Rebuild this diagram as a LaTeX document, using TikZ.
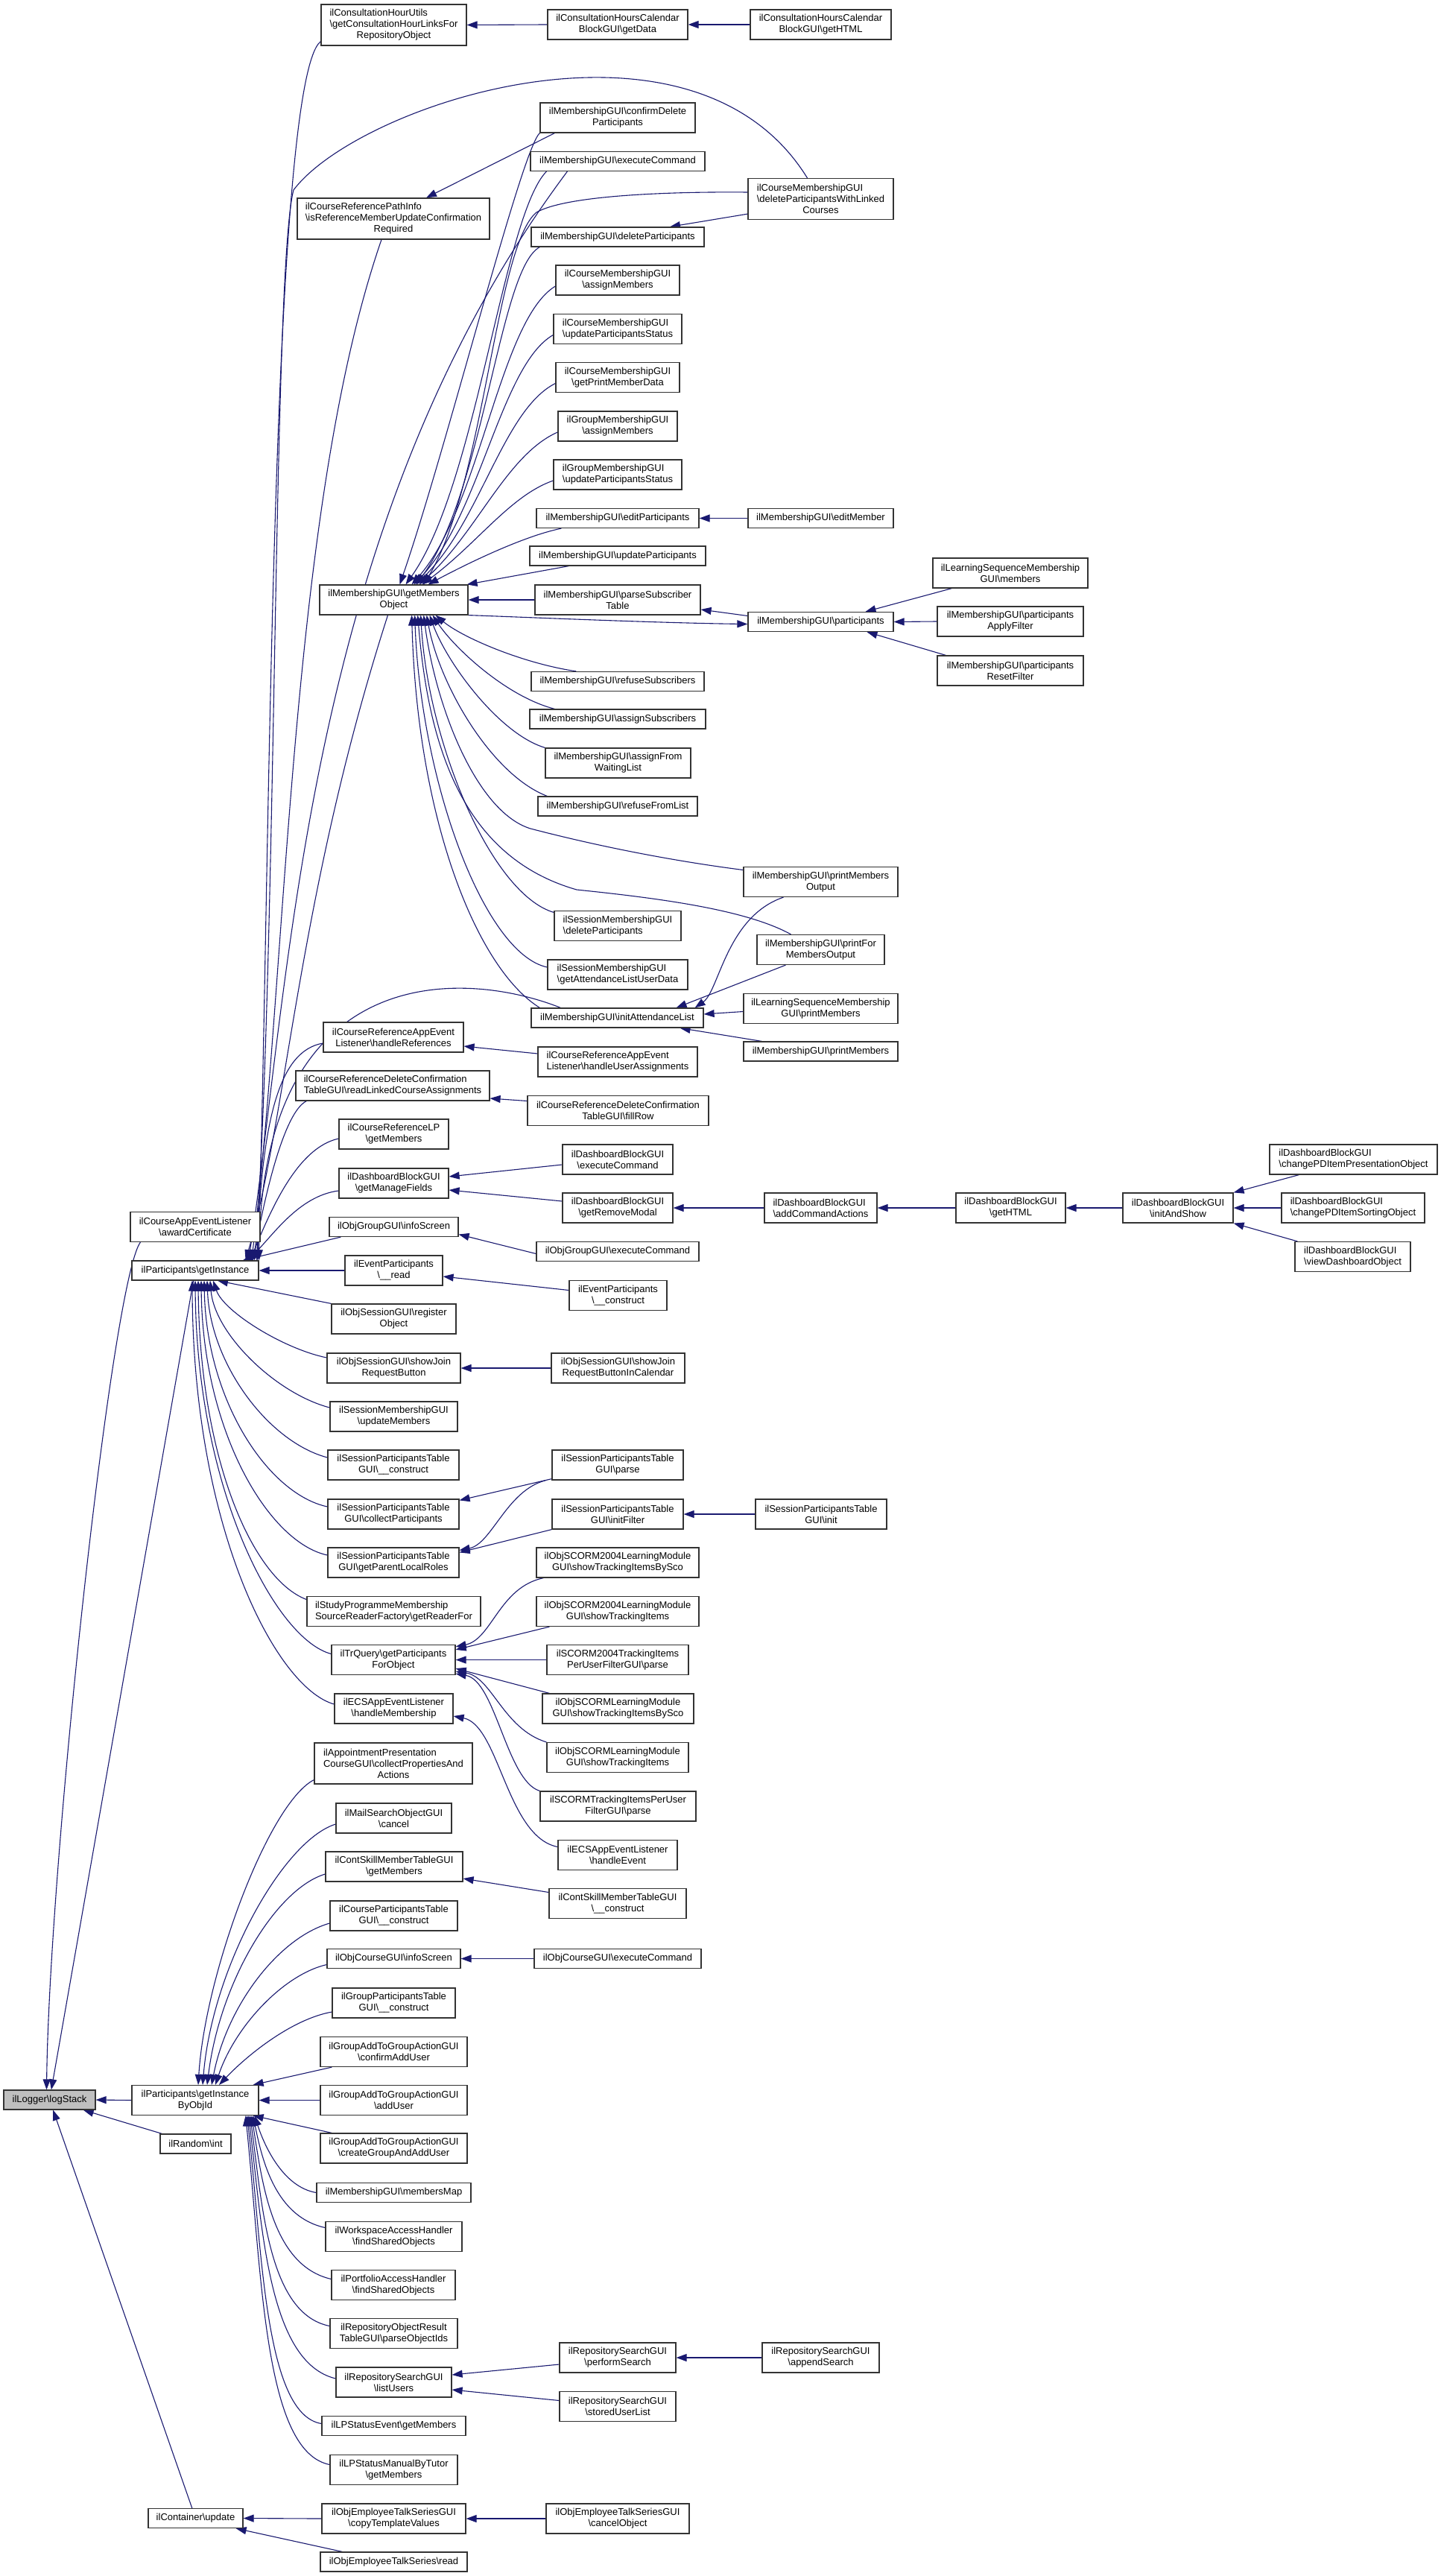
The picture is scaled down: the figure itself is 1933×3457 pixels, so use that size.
\documentclass[tikz,border=0pt]{standalone}
\usepackage{fontspec}
\setmainfont{Liberation Sans}
\usetikzlibrary{arrows.meta, backgrounds}
\definecolor{edgeblue}{HTML}{191970}
\definecolor{rootgray}{HTML}{BFBFBF}
\newcommand{\bsl}{\textbackslash}
\newlength{\padw}
\newcommand{\padto}[2]{\settowidth{\padw}{#2}\makebox[\padw][l]{#1}}
\tikzset{
  fn/.style={draw=black!80, line width=1.2pt, fill=white, align=center, inner xsep=3pt, inner ysep=2pt, minimum height=26pt, font=\fontsize{13}{15}\selectfont},
  fn2/.style={fn, minimum height=40pt},
  fn3/.style={fn, minimum height=55pt},
  call/.style={draw=edgeblue, line width=1.1pt, {Triangle[length=14pt,width=10pt]}-},
}
\begin{document}
\begin{tikzpicture}[x=1pt, y=1pt]
\useasboundingbox (0,0) rectangle (1933,-3457);
% root and second column
\node[fn, fill=rootgray, minimum width=123pt] (logstack) at (66.5,-2818) {ilLogger\bsl logStack};
\node[fn2, minimum width=174pt] (award) at (262,-1646.5) {ilCourseAppEventListener\\\bsl awardCertificate};
\node[fn, minimum width=170pt] (getinst) at (262,-1705) {ilParticipants\bsl getInstance};
\node[fn2, minimum width=170pt] (byobjid) at (262,-2818.5) {ilParticipants\bsl getInstance\\ByObjId};
\node[fn, minimum width=95pt] (rand) at (262.5,-2877) {ilRandom\bsl int};
\node[fn, minimum width=127pt] (contupd) at (262.5,-3379.5) {ilContainer\bsl update};
% third column
\node[fn3, minimum width=195pt] (cchutils) at (528.5,-33.5) {\padto{ilConsultationHourUtils}{\bsl getConsultationHourLinksFor}\\\bsl getConsultationHourLinksFor\\RepositoryObject};
\node[fn3, minimum width=258pt] (pathinfo) at (528,-293.5) {\padto{ilCourseReferencePathInfo}{\bsl isReferenceMemberUpdateConfirmation}\\\bsl isReferenceMemberUpdateConfirmation\\Required};
\node[fn2, minimum width=199pt] (getmemobj) at (528.5,-805) {ilMembershipGUI\bsl getMembers\\Object};
\node[fn2, minimum width=188pt] (handleref) at (528,-1392) {ilCourseReferenceAppEvent\\Listener\bsl handleReferences};
\node[fn2, align=left, minimum width=260pt] (readlinked) at (527,-1457) {ilCourseReferenceDeleteConfirmation\\TableGUI\bsl readLinkedCourseAssignments};
\node[fn2, minimum width=147pt] (reflp) at (528.5,-1522) {ilCourseReferenceLP\\\bsl getMembers};
\node[fn2, minimum width=147pt] (managefields) at (528.5,-1588) {ilDashboardBlockGUI\\\bsl getManageFields};
\node[fn, minimum width=173pt] (grpinfo) at (528.5,-1646.5) {ilObjGroupGUI\bsl infoScreen};
\node[fn2, minimum width=131pt] (evread) at (528.5,-1705) {ilEventParticipants\\\bsl\_\_read};
\node[fn2, minimum width=167pt] (regobj) at (528.5,-1770) {ilObjSessionGUI\bsl register\\Object};
\node[fn2, minimum width=179pt] (showjoin) at (528.5,-1836) {ilObjSessionGUI\bsl showJoin\\RequestButton};
\node[fn2, minimum width=171pt] (sessupd) at (528.5,-1901) {ilSessionMembershipGUI\\\bsl updateMembers};
\node[fn2, minimum width=176pt] (spconstr) at (528,-1966) {ilSessionParticipantsTable\\GUI\bsl\_\_construct};
\node[fn2, minimum width=176pt] (spcollect) at (528,-2032) {ilSessionParticipantsTable\\GUI\bsl collectParticipants};
\node[fn2, minimum width=176pt] (sproles) at (528,-2097) {ilSessionParticipantsTable\\GUI\bsl getParentLocalRoles};
\node[fn2, align=left, minimum width=233pt] (studyprog) at (528.5,-2162.5) {ilStudyProgrammeMembership\\SourceReaderFactory\bsl getReaderFor};
\node[fn2, minimum width=166pt] (trquery) at (528,-2227.5) {ilTrQuery\bsl getParticipants\\ForObject};
\node[fn2, minimum width=159pt] (ecsmember) at (528.5,-2293) {ilECSAppEventListener\\\bsl handleMembership};
\node[fn3, minimum width=212pt] (appoint) at (528,-2366.5) {\padto{ilAppointmentPresentation}{CourseGUI\bsl collectPropertiesAnd}\\CourseGUI\bsl collectPropertiesAnd\\Actions};
\node[fn2, minimum width=155pt] (mailcancel) at (528.5,-2440) {ilMailSearchObjectGUI\\\bsl cancel};
\node[fn2, minimum width=184pt] (skillmem) at (529,-2505) {ilContSkillMemberTableGUI\\\bsl getMembers};
\node[fn2, minimum width=171pt] (crspart) at (528.5,-2571) {ilCourseParticipantsTable\\GUI\bsl\_\_construct};
\node[fn, minimum width=179pt] (crsinfo) at (528.5,-2628.5) {ilObjCourseGUI\bsl infoScreen};
\node[fn2, minimum width=165pt] (grppart) at (528.5,-2688) {ilGroupParticipantsTable\\GUI\bsl\_\_construct};
\node[fn2, minimum width=197pt] (confadd) at (528.5,-2753.5) {ilGroupAddToGroupActionGUI\\\bsl confirmAddUser};
\node[fn2, minimum width=197pt] (adduser) at (528.5,-2818.5) {ilGroupAddToGroupActionGUI\\\bsl addUser};
\node[fn2, minimum width=197pt] (creategrp) at (528.5,-2883) {ilGroupAddToGroupActionGUI\\\bsl createGroupAndAddUser};
\node[fn, minimum width=207pt] (membersmap) at (528.5,-2942.5) {ilMembershipGUI\bsl membersMap};
\node[fn2, minimum width=183pt] (wspshared) at (528.5,-3001.5) {ilWorkspaceAccessHandler\\\bsl findSharedObjects};
\node[fn2, minimum width=166pt] (prtfshared) at (528,-3066.5) {ilPortfolioAccessHandler\\\bsl findSharedObjects};
\node[fn2, minimum width=171pt] (reporesult) at (528.5,-3131.5) {ilRepositoryObjectResult\\TableGUI\bsl parseObjectIds};
\node[fn2, minimum width=155pt] (listusers) at (528.5,-3197) {ilRepositorySearchGUI\\\bsl listUsers};
\node[fn, minimum width=193pt] (lpevent) at (528.5,-3255.5) {ilLPStatusEvent\bsl getMembers};
\node[fn2, minimum width=171pt] (lpmanual) at (528.5,-3314.5) {ilLPStatusManualByTutor\\\bsl getMembers};
\node[fn2, minimum width=193pt] (copytpl) at (528.5,-3380) {ilObjEmployeeTalkSeriesGUI\\\bsl copyTemplateValues};
\node[fn, minimum width=197pt] (talkread) at (528.5,-3438) {ilObjEmployeeTalkSeries\bsl read};
% fourth column
\node[fn2, minimum width=188pt] (cchdata) at (829,-33) {ilConsultationHoursCalendar\\BlockGUI\bsl getData};
\node[fn2, minimum width=208pt] (confdel) at (829,-158) {ilMembershipGUI\bsl confirmDelete\\Participants};
\node[fn, minimum width=234pt] (mexec) at (829,-216.5) {ilMembershipGUI\bsl executeCommand};
\node[fn, minimum width=232pt] (mdelpart) at (829,-318) {ilMembershipGUI\bsl deleteParticipants};
\node[fn2, minimum width=166pt] (crsassign) at (829,-376) {ilCourseMembershipGUI\\\bsl assignMembers};
\node[fn2, align=left, minimum width=172pt] (crsstatus) at (829,-441.5) {ilCourseMembershipGUI\\\bsl updateParticipantsStatus};
\node[fn2, minimum width=166pt] (crsprint) at (829,-506.5) {ilCourseMembershipGUI\\\bsl getPrintMemberData};
\node[fn2, minimum width=160pt] (grpassign) at (829,-572) {ilGroupMembershipGUI\\\bsl assignMembers};
\node[fn2, align=left, minimum width=172pt] (grpstatus) at (829,-637) {ilGroupMembershipGUI\\\bsl updateParticipantsStatus};
\node[fn, minimum width=218pt] (editpart) at (829,-695.5) {ilMembershipGUI\bsl editParticipants};
\node[fn, minimum width=236pt] (updpart) at (829,-746) {ilMembershipGUI\bsl updateParticipants};
\node[fn2, minimum width=222pt] (parsesub) at (829,-805) {ilMembershipGUI\bsl parseSubscriber\\Table};
\node[fn, minimum width=232pt] (refusesub) at (829,-914.5) {ilMembershipGUI\bsl refuseSubscribers};
\node[fn, minimum width=236pt] (assignsub) at (829,-965) {ilMembershipGUI\bsl assignSubscribers};
\node[fn2, minimum width=195pt] (fromwait) at (829.5,-1024) {ilMembershipGUI\bsl assignFrom\\WaitingList};
\node[fn, minimum width=214pt] (refuselist) at (829,-1082) {ilMembershipGUI\bsl refuseFromList};
\node[fn2, align=left, minimum width=170pt] (sessdel) at (829,-1242.5) {ilSessionMembershipGUI\\\bsl deleteParticipants};
\node[fn2, align=left, minimum width=188pt] (attdata) at (829,-1308) {ilSessionMembershipGUI\\\bsl getAttendanceListUserData};
\node[fn, minimum width=231pt] (initatt) at (828.5,-1366) {ilMembershipGUI\bsl initAttendanceList};
\node[fn2, align=left, minimum width=214pt] (handleuser) at (829,-1425) {ilCourseReferenceAppEvent\\Listener\bsl handleUserAssignments};
\node[fn2, minimum width=243pt] (fillrow) at (829.5,-1490.5) {ilCourseReferenceDeleteConfirmation\\TableGUI\bsl fillRow};
\node[fn2, minimum width=148pt] (dbexec) at (829,-1556) {ilDashboardBlockGUI\\\bsl executeCommand};
\node[fn2, minimum width=148pt] (removemodal) at (829,-1621) {ilDashboardBlockGUI\\\bsl getRemoveModal};
\node[fn, minimum width=218pt] (grpexec) at (829,-1679.5) {ilObjGroupGUI\bsl executeCommand};
\node[fn2, minimum width=131pt] (evconstr) at (829.5,-1738.5) {ilEventParticipants\\\bsl\_\_construct};
\node[fn2, minimum width=179pt] (showjoincal) at (829.5,-1836) {ilObjSessionGUI\bsl showJoin\\RequestButtonInCalendar};
\node[fn2, minimum width=176pt] (spparse) at (829,-1966) {ilSessionParticipantsTable\\GUI\bsl parse};
\node[fn2, minimum width=176pt] (spfilter) at (829,-2032) {ilSessionParticipantsTable\\GUI\bsl initFilter};
\node[fn2, minimum width=218pt] (scbysco) at (829,-2097) {ilObjSCORM2004LearningModule\\GUI\bsl showTrackingItemsBySco};
\node[fn2, minimum width=218pt] (scitems) at (829,-2162.5) {ilObjSCORM2004LearningModule\\GUI\bsl showTrackingItems};
\node[fn2, minimum width=190pt] (scparse) at (829,-2227.5) {ilSCORM2004TrackingItems\\PerUserFilterGUI\bsl parse};
\node[fn2, minimum width=203pt] (slbysco) at (829.5,-2293) {ilObjSCORMLearningModule\\GUI\bsl showTrackingItemsBySco};
\node[fn2, minimum width=190pt] (slitems) at (829,-2358.5) {ilObjSCORMLearningModule\\GUI\bsl showTrackingItems};
\node[fn2, minimum width=209pt] (slparse) at (829.5,-2424) {ilSCORMTrackingItemsPerUser\\FilterGUI\bsl parse};
\node[fn2, minimum width=160pt] (ecsevent) at (829,-2489.5) {ilECSAppEventListener\\\bsl handleEvent};
\node[fn2, minimum width=184pt] (skillconstr) at (829,-2554.5) {ilContSkillMemberTableGUI\\\bsl\_\_construct};
\node[fn, minimum width=224pt] (crsexec) at (829,-2628.5) {ilObjCourseGUI\bsl executeCommand};
\node[fn2, minimum width=156pt] (perfsearch) at (829,-3164) {ilRepositorySearchGUI\\\bsl performSearch};
\node[fn2, minimum width=156pt] (storedlist) at (829,-3229.5) {ilRepositorySearchGUI\\\bsl storedUserList};
\node[fn2, minimum width=192pt] (cancelobj) at (829,-3380) {ilObjEmployeeTalkSeriesGUI\\\bsl cancelObject};
% fifth column
\node[fn2, minimum width=189pt] (cchhtml) at (1101.5,-33) {ilConsultationHoursCalendar\\BlockGUI\bsl getHTML};
\node[fn3, minimum width=195pt] (dellinked) at (1101.5,-267) {\padto{ilCourseMembershipGUI}{\bsl deleteParticipantsWithLinked}\\\bsl deleteParticipantsWithLinked\\Courses};
\node[fn, minimum width=195pt] (editmember) at (1101.5,-695.5) {ilMembershipGUI\bsl editMember};
\node[fn, minimum width=195pt] (particip) at (1101.5,-834.5) {ilMembershipGUI\bsl participants};
\node[fn2, minimum width=207pt] (printout) at (1101.5,-1183.5) {ilMembershipGUI\bsl printMembers\\Output};
\node[fn2, minimum width=171pt] (printfor) at (1101.5,-1274.5) {ilMembershipGUI\bsl printFor\\MembersOutput};
\node[fn2, minimum width=207pt] (lsprint) at (1101.5,-1353.5) {ilLearningSequenceMembership\\GUI\bsl printMembers};
\node[fn, minimum width=207pt] (printmem) at (1101.5,-1411) {ilMembershipGUI\bsl printMembers};
\node[fn2, align=left, minimum width=151pt] (addcmd) at (1101.5,-1621) {ilDashboardBlockGUI\\\bsl addCommandActions};
\node[fn2, minimum width=176pt] (spinit) at (1102,-2032) {ilSessionParticipantsTable\\GUI\bsl init};
\node[fn2, minimum width=157pt] (appendsearch) at (1101.5,-3164) {ilRepositorySearchGUI\\\bsl appendSearch};
% right columns
\node[fn2, minimum width=208pt] (lsmembers) at (1356,-769) {ilLearningSequenceMembership\\GUI\bsl members};
\node[fn2, minimum width=196pt] (applyfilter) at (1356,-834) {ilMembershipGUI\bsl participants\\ApplyFilter};
\node[fn2, minimum width=196pt] (resetfilter) at (1356,-900) {ilMembershipGUI\bsl participants\\ResetFilter};
\node[fn2, minimum width=147pt] (dbhtml) at (1356.5,-1621) {ilDashboardBlockGUI\\\bsl getHTML};
\node[fn2, minimum width=148pt] (initshow) at (1581,-1621) {ilDashboardBlockGUI\\\bsl initAndShow};
\node[fn2, align=left, minimum width=225pt] (changepres) at (1816.5,-1556) {ilDashboardBlockGUI\\\bsl changePDItemPresentationObject};
\node[fn2, align=left, minimum width=192pt] (changesort) at (1816,-1621) {ilDashboardBlockGUI\\\bsl changePDItemSortingObject};
\node[fn2, align=left, minimum width=155pt] (viewdash) at (1815.5,-1686.5) {ilDashboardBlockGUI\\\bsl viewDashboardObject};

\begin{scope}[on background layer]
\fill[white] (0,0) rectangle (1933,-3457);
% callers of logStack
\draw[call] (logstack.east) -- (byobjid.west);
\draw[call] (logstack) -- (rand);
\draw[call] (logstack) -- (contupd);
\draw[call] (logstack) -- (getinst);
\draw[call] ([xshift=-4pt]logstack.north) .. controls (66,-2500) and (150,-1720) .. ([xshift=14pt]award.south west);
% callers of getInstance, upper side
\draw[call] ([xshift=-2pt]getinst.north east) .. controls (362,-1300) and (360,-110) .. ([yshift=6pt]cchutils.south west);
\draw[call] ([xshift=-6pt]getinst.north east) .. controls (372,-1300) and (366,-360) .. (394,-255) .. controls (480,-140) and (930,10) .. ([xshift=-18pt]dellinked.north);
\draw[call] ([xshift=-10pt]getinst.north east) .. controls (386,-1300) and (388,-680) .. ([xshift=-16pt]pathinfo.south);
\draw[call] ([xshift=-14pt]getinst.north east) .. controls (392,-1300) and (410,-700) .. ([xshift=50pt]mexec.south west);
\draw[call] ([xshift=-18pt]getinst.north east) .. controls (385,-1500) and (400,-1200) .. ([xshift=-8pt]getmemobj.south);
\draw[call] (getinst.north east) .. controls (352,-1290) and (620,-1300) .. ([xshift=40pt]initatt.north west);
\draw[call] ([xshift=-3pt]getinst.north east) .. controls (352,-1500) and (375,-1410) .. ([yshift=-8pt]handleref.west);
\draw[call] ([xshift=-8pt]getinst.north east) .. controls (360,-1580) and (385,-1490) .. ([xshift=15pt]readlinked.south west);
\draw[call] ([xshift=-12pt]getinst.north east) .. controls (365,-1620) and (400,-1540) .. ([yshift=-6pt]reflp.west);
\draw[call] ([xshift=-16pt]getinst.north east) .. controls (365,-1660) and (400,-1605) .. ([yshift=-10pt]managefields.west);
\draw[call] ([xshift=-22pt]getinst.north east) -- ([xshift=16pt]grpinfo.south west);
\draw[call] (getinst.east) -- (evread.west);
% callers of getInstance, lower side
\draw[call] ([xshift=30pt]getinst.south) -- (regobj.north west);
\draw[call] ([xshift=24pt]getinst.south) .. controls (300,-1760) and (380,-1810) .. ([yshift=14pt]showjoin.west);
\draw[call] ([xshift=20pt]getinst.south) .. controls (288,-1790) and (370,-1870) .. ([yshift=12pt]sessupd.west);
\draw[call] ([xshift=16pt]getinst.south) .. controls (282,-1830) and (360,-1935) .. ([yshift=10pt]spconstr.west);
\draw[call] ([xshift=12pt]getinst.south) .. controls (277,-1880) and (360,-2005) .. ([yshift=10pt]spcollect.west);
\draw[call] ([xshift=8pt]getinst.south) .. controls (272,-1920) and (360,-2070) .. ([yshift=10pt]sproles.west);
\draw[call] ([xshift=4pt]getinst.south) .. controls (268,-1960) and (340,-2120) .. ([yshift=16pt]studyprog.west);
\draw[call] (getinst.south) .. controls (264,-2000) and (370,-2200) .. ([yshift=8pt]trquery.west);
\draw[call] ([xshift=-4pt]getinst.south) .. controls (259,-2050) and (370,-2265) .. ([yshift=6pt]ecsmember.west);
% callers of getInstanceByObjId
\draw[call] ([xshift=4pt]byobjid.north) .. controls (275,-2650) and (360,-2420) .. ([yshift=-22pt]appoint.west);
\draw[call] ([xshift=10pt]byobjid.north) .. controls (285,-2640) and (380,-2470) .. ([yshift=-8pt]mailcancel.west);
\draw[call] ([xshift=16pt]byobjid.north) .. controls (295,-2660) and (370,-2535) .. ([yshift=-10pt]skillmem.west);
\draw[call] ([xshift=22pt]byobjid.north) .. controls (305,-2690) and (375,-2600) .. ([yshift=-10pt]crspart.west);
\draw[call] ([xshift=27pt]byobjid.north) .. controls (315,-2720) and (380,-2650) .. ([yshift=-8pt]crsinfo.west);
\draw[call] ([xshift=32pt]byobjid.north) .. controls (330,-2760) and (390,-2710) .. ([yshift=-12pt]grppart.west);
\draw[call] ([xshift=-8pt]byobjid.north east) -- ([xshift=16pt]confadd.south west);
\draw[call] (byobjid.east) -- (adduser.west);
\draw[call] ([xshift=-8pt]byobjid.south east) -- ([xshift=16pt]creategrp.north west);
\draw[call] ([xshift=-6pt]byobjid.south east) .. controls (355,-2880) and (380,-2935) .. (membersmap.west);
\draw[call] ([xshift=-8pt]byobjid.south east) .. controls (352,-2900) and (370,-2975) .. ([yshift=12pt]wspshared.west);
\draw[call] ([xshift=-10pt]byobjid.south east) .. controls (352,-2930) and (365,-3040) .. ([yshift=8pt]prtfshared.west);
\draw[call] ([xshift=-12pt]byobjid.south east) .. controls (352,-2960) and (360,-3105) .. ([yshift=10pt]reporesult.west);
\draw[call] ([xshift=-14pt]byobjid.south east) .. controls (352,-2990) and (360,-3170) .. ([yshift=5pt]listusers.west);
\draw[call] ([xshift=-16pt]byobjid.south east) .. controls (352,-3020) and (355,-3240) .. ([yshift=3pt]lpevent.west);
\draw[call] ([xshift=-18pt]byobjid.south east) .. controls (352,-3060) and (355,-3290) .. ([yshift=7pt]lpmanual.west);
% callers of getMembersObject
\draw[call] ([xshift=8pt]getmemobj.north) .. controls (600,-600) and (700,-200) .. (confdel.south west);
\draw[call] ([xshift=16pt]getmemobj.north) .. controls (640,-650) and (675,-290) .. ([xshift=22pt]mexec.south west);
\draw[call] ([xshift=40pt]getmemobj.north) .. controls (650,-650) and (665,-330) .. (720,-285) .. controls (760,-262) and (900,-257) .. ([yshift=9pt]dellinked.west);
\draw[call] ([xshift=30pt]getmemobj.north) .. controls (650,-660) and (670,-360) .. ([xshift=12pt]mdelpart.south west);
\draw[call] ([xshift=24pt]getmemobj.north) .. controls (645,-680) and (670,-430) .. ([yshift=-8pt]crsassign.west);
\draw[call] ([xshift=27pt]getmemobj.north) .. controls (645,-690) and (672,-490) .. ([yshift=-8pt]crsstatus.west);
\draw[call] ([xshift=30pt]getmemobj.north) .. controls (645,-700) and (675,-550) .. ([yshift=-8pt]crsprint.west);
\draw[call] ([xshift=34pt]getmemobj.north) .. controls (640,-715) and (680,-610) .. ([yshift=-8pt]grpassign.west);
\draw[call] ([xshift=38pt]getmemobj.north) .. controls (640,-730) and (685,-665) .. ([yshift=-8pt]grpstatus.west);
\draw[call] ([xshift=46pt]getmemobj.north) .. controls (620,-760) and (700,-720) .. ([xshift=34pt]editpart.south west);
\draw[call] ([xshift=-2pt]getmemobj.north east) -- ([xshift=53pt]updpart.south west);
\draw[call] (getmemobj.east) -- (parsesub.west);
\draw[call] ([xshift=-44pt]getmemobj.south east) .. controls (620,-855) and (700,-890) .. ([xshift=61pt]refusesub.north west);
\draw[call] ([xshift=-48pt]getmemobj.south east) .. controls (610,-870) and (680,-935) .. ([xshift=34pt]assignsub.north west);
\draw[call] ([xshift=-52pt]getmemobj.south east) .. controls (600,-890) and (670,-985) .. (fromwait.north west);
\draw[call] ([xshift=-56pt]getmemobj.south east) .. controls (590,-920) and (660,-1040) .. ([xshift=13pt]refuselist.north west);
\draw[call] ([xshift=-60pt]getmemobj.south east) .. controls (585,-950) and (640,-1090) .. (712,-1112) .. controls (800,-1135) and (900,-1155) .. ([yshift=16pt]printout.west);
\draw[call] ([xshift=-64pt]getmemobj.south east) .. controls (575,-1000) and (660,-1200) .. ([yshift=18pt]sessdel.west);
\draw[call] ([xshift=-68pt]getmemobj.south east) .. controls (575,-1000) and (620,-1150) .. (774,-1194) .. controls (880,-1205) and (1000,-1220) .. ([xshift=-40pt]printfor.north);
\draw[call] ([xshift=-72pt]getmemobj.south east) .. controls (565,-1050) and (650,-1280) .. ([yshift=10pt]attdata.west);
\draw[call] ([xshift=-76pt]getmemobj.south east) .. controls (560,-1100) and (640,-1300) .. ([xshift=12pt]initatt.north west);
\draw[call] ([yshift=-3pt]particip.west) .. controls (880,-836) and (700,-828) .. (getmemobj.south east);
% remaining calls
\draw[call] ([xshift=44pt]pathinfo.north) -- ([xshift=20pt]confdel.south west);
\draw[call] (cchutils.east) -- (cchdata.west);
\draw[call] (cchdata.east) -- (cchhtml.west);
\draw[call] ([xshift=70pt]mdelpart.north) -- ([yshift=8pt]dellinked.south west);
\draw[call] (editpart.east) -- (editmember.west);
\draw[call] ([yshift=-13pt]parsesub.east) -- ([yshift=8pt]particip.west);
\draw[call] ([xshift=60pt]particip.north) -- ([xshift=26pt]lsmembers.south west);
\draw[call] (particip.east) -- (applyfilter.west);
\draw[call] ([xshift=62pt]particip.south) -- ([xshift=12pt]resetfilter.north west);
\draw[call] ([xshift=-12pt]initatt.north east) .. controls (965,-1330) and (975,-1230) .. ([xshift=-50pt]printout.south);
\draw[call] ([xshift=-37pt]initatt.north east) -- ([xshift=-47pt]printfor.south);
\draw[call] ([yshift=5pt]initatt.east) -- ([yshift=-4pt]lsprint.west);
\draw[call] ([xshift=-32pt]initatt.south east) -- ([xshift=25pt]printmem.north west);
\draw[call] ([yshift=-12pt]handleref.east) -- ([yshift=11pt]handleuser.west);
\draw[call] ([yshift=-17pt]readlinked.east) -- ([yshift=13pt]fillrow.west);
\draw[call] ([yshift=9pt]managefields.east) -- ([yshift=-7pt]dbexec.west);
\draw[call] ([yshift=-9pt]managefields.east) -- ([yshift=9pt]removemodal.west);
\draw[call] (removemodal.east) -- (addcmd.west);
\draw[call] (addcmd.east) -- (dbhtml.west);
\draw[call] (dbhtml.east) -- (initshow.west);
\draw[call] (initshow.north east) -- ([xshift=40pt]changepres.south west);
\draw[call] (initshow.east) -- (changesort.west);
\draw[call] (initshow.south east) -- ([xshift=4pt]viewdash.north west);
\draw[call] ([yshift=-10pt]grpinfo.east) -- ([yshift=-3pt]grpexec.west);
\draw[call] ([yshift=-8pt]evread.east) -- ([yshift=7pt]evconstr.west);
\draw[call] (showjoin.east) -- (showjoincal.west);
\draw[call] ([yshift=-2pt]spcollect.north east) -- ([yshift=2pt]spparse.south west);
\draw[call] ([yshift=-4pt]sproles.north east) .. controls (660,-2072) and (680,-2000) .. ([xshift=-8pt]spparse.south west);
\draw[call] ([yshift=-7pt]sproles.north east) -- (spfilter.south west);
\draw[call] (spfilter.east) -- (spinit.west);
\draw[call] ([yshift=-3pt]trquery.north east) .. controls (660,-2200) and (670,-2130) .. ([xshift=10pt]scbysco.south west);
\draw[call] ([yshift=-7pt]trquery.north east) -- ([xshift=18pt]scitems.south west);
\draw[call] (trquery.east) -- (scparse.west);
\draw[call] ([yshift=9pt]trquery.south east) -- ([xshift=10pt]slbysco.north west);
\draw[call] ([yshift=5pt]trquery.south east) .. controls (660,-2250) and (675,-2320) .. (slitems.north west);
\draw[call] ([yshift=2pt]trquery.south east) .. controls (665,-2255) and (680,-2390) .. (slparse.north west);
\draw[call] ([yshift=-10pt]ecsmember.east) .. controls (670,-2315) and (680,-2465) .. ([yshift=11pt]ecsevent.west);
\draw[call] ([yshift=-16pt]skillmem.east) -- ([yshift=15pt]skillconstr.west);
\draw[call] (crsinfo.east) -- (crsexec.west);
\draw[call] ([yshift=10pt]listusers.east) -- ([yshift=-9pt]perfsearch.west);
\draw[call] ([yshift=-10pt]listusers.east) -- ([yshift=8pt]storedlist.west);
\draw[call] (perfsearch.east) -- (appendsearch.west);
\draw[call] (contupd.east) -- (copytpl.west);
\draw[call] ([xshift=-10pt]contupd.south east) -- ([xshift=30pt]talkread.north west);
\draw[call] (copytpl.east) -- (cancelobj.west);
\end{scope}
\end{tikzpicture}
\end{document}
